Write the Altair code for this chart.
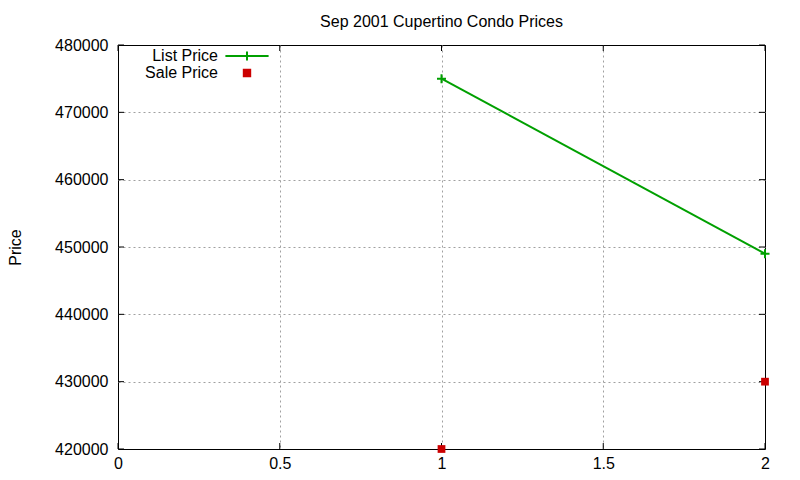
import altair as alt
import pandas as pd

chart_title = "Sep 2001 Cupertino Condo Prices"
y_title = "Price"
series_names = ["List Price", "Sale Price"]
x_values = [1, 2]
list_price = [475000, 449000]
sale_price = [420000, 430000]
x_ticks = [0, 0.5, 1, 1.5, 2]
y_ticks = [420000, 430000, 440000, 450000, 460000, 470000, 480000]
colors = ["#00a000", "#cc0000"]

rows = []
for name, vals in zip(series_names, [list_price, sale_price]):
    for xv, v in zip(x_values, vals):
        rows.append({"series": name, "x": xv, "price": v})
df = pd.DataFrame(rows)
xt = pd.DataFrame({"x": x_ticks})
yt = pd.DataFrame({"price": y_ticks})

W, H = 647, 404
FONT = "Liberation Sans"
xs = alt.Scale(domain=[x_ticks[0], x_ticks[-1]], nice=False, zero=False)
ys = alt.Scale(domain=[y_ticks[0], y_ticks[-1]], nice=False, zero=False)

x_grid_op = {"condition": {"test": f"datum.value <= {x_ticks[0]} || datum.value >= {x_ticks[-1]}",
                           "value": 0}, "value": 1}
y_grid_op = {"condition": {"test": f"datum.value <= {y_ticks[0]} || datum.value >= {y_ticks[-1]}",
                           "value": 0}, "value": 1}

x_axis = alt.Axis(values=x_ticks, format="~g", title=None, grid=True, ticks=False,
                  domain=False, labelPadding=6, labelFontSize=16, labelFont=FONT,
                  labelFlush=False, labelColor="black", gridColor="#a0a0a0",
                  gridDash=[2, 3], gridWidth=1, gridOpacity=x_grid_op)
y_axis = alt.Axis(values=y_ticks, format="d", title=y_title, grid=True, ticks=False,
                  domain=False, labelPadding=10, labelFontSize=16, labelFont=FONT,
                  labelFlush=False, labelColor="black", gridColor="#a0a0a0",
                  gridDash=[2, 3], gridWidth=1, gridOpacity=y_grid_op,
                  titleFont=FONT, titleFontSize=16, titleFontWeight="normal",
                  titleColor="black", titlePadding=31)

X = alt.X("x:Q", scale=xs, axis=x_axis)
Y = alt.Y("price:Q", scale=ys, axis=y_axis)

list_df = df[df["series"] == series_names[0]]
sale_df = df[df["series"] == series_names[1]]

line = alt.Chart(list_df).mark_line(color=colors[0], strokeWidth=2).encode(x=X, y=Y)
plus_path = "M-1,0H1M0,-1V1"
list_pts = alt.Chart(list_df).mark_point(
    shape=plus_path, size=81, strokeWidth=2, color=colors[0], filled=False, opacity=1
).encode(x=X, y=Y)
sale_pts = alt.Chart(sale_df).mark_point(
    shape="square", size=60, filled=True, color=colors[1], opacity=1, strokeWidth=0
).encode(x=X, y=Y)

leg = alt.Legend(title=None, orient="none", legendX=121, legendY=3, labelAlign="right",
                 labelOffset=alt.ExprRef(expr="-37"), labelFontSize=16, labelFont=FONT,
                 labelColor="black", symbolSize=64, symbolStrokeWidth=2, rowPadding=0,
                 padding=0, labelLimit=0)
legend_list_sym = "M-5.4,0H5.4M0,-1.1V1.1"
legend_sale_sym = "M-0.8,-0.8H0.8V0.8H-0.8Z"
carrier = alt.Chart(df).transform_filter("false").mark_point(
    filled=True, opacity=1, size=64, strokeWidth=2
).encode(
    x=X, y=Y,
    shape=alt.Shape("series:N", scale=alt.Scale(domain=series_names,
                    range=[legend_list_sym, legend_sale_sym]), legend=leg),
    stroke=alt.Stroke("series:N", scale=alt.Scale(domain=series_names, range=colors), legend=leg),
    fill=alt.Fill("series:N", scale=alt.Scale(domain=series_names,
                  range=["transparent", colors[1]]), legend=leg),
)

TL = 6
ytick_l = alt.Chart(yt).mark_rule(color="black").encode(
    y=Y, x=alt.value(0), x2=alt.value(TL))
ytick_r = alt.Chart(yt).mark_rule(color="black").encode(
    y=Y, x=alt.value(W - TL), x2=alt.value(W))
xtick_b = alt.Chart(xt).mark_rule(color="black").encode(
    x=X, y=alt.value(H - TL), y2=alt.value(H))
xtick_t = alt.Chart(xt).mark_rule(color="black").encode(
    x=X, y=alt.value(0), y2=alt.value(TL))

chart = alt.layer(line, ytick_l, ytick_r, xtick_b, xtick_t, list_pts, sale_pts, carrier).properties(
    width=W, height=H,
    title=alt.TitleParams(chart_title, fontSize=16, font=FONT, fontWeight="normal",
                          color="black", anchor="middle", offset=7),
    autosize=alt.AutoSizeParams(type="none"),
    padding={"left": 110, "top": 37, "right": 20, "bottom": 28},
    background="white",
).configure_view(stroke="black", strokeWidth=1)

chart.save("out.html", embed_options={"renderer": "svg", "actions": False})
